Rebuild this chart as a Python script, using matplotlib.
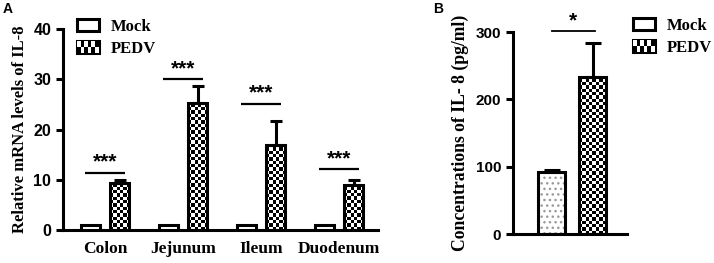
import numpy as np
import matplotlib
matplotlib.use("Agg")
import matplotlib.pyplot as plt
from matplotlib.patches import Rectangle
from matplotlib.legend_handler import HandlerBase

# ---------------- data ----------------
tissues = ["Colon", "Jejunum", "Ileum", "Duodenum"]
mock_a = [1.0, 1.0, 1.0, 1.0]
pedv_a = [9.3, 25.3, 16.9, 9.0]
pedv_a_err = [0.6, 3.4, 4.8, 0.9]
sig_a = ["***", "***", "***", "***"]
sig_a_y = [11.4, 30.0, 25.1, 12.1]
yticks_a = [0, 10, 20, 30, 40]

groups_b = ["Mock", "PEDV"]
vals_b = [92, 233]
err_b = [3, 50]
sig_b = "*"
sig_b_y = 301
yticks_b = [0, 100, 200, 300]

serif = "Liberation Serif"
sans = "Liberation Sans"
LW = 2.2
CHECK = 3.3  # checker square size in px

fig = plt.figure(figsize=(7.14, 2.63), dpi=100)
W, H = 714, 263


def px_axes(l, t, r, b):
    return fig.add_axes([l / W, 1 - b / H, (r - l) / W, (b - t) / H])


axA = px_axes(63, 29, 378, 230)
axB = px_axes(513, 32, 627, 234)


def style_axes(ax, yt, fs):
    for s in ["top", "right"]:
        ax.spines[s].set_visible(False)
    for s in ["left", "bottom"]:
        ax.spines[s].set_linewidth(LW)
    ax.set_yticks(yt)
    ax.tick_params(axis="y", direction="out", length=5, width=LW)
    ax.tick_params(axis="x", length=0)
    for lab in ax.get_yticklabels():
        lab.set_fontfamily(sans)
        lab.set_fontweight("bold")
        lab.set_fontsize(fs)


def checker_fill(ax, bar):
    x0, y0 = bar.get_x(), bar.get_y()
    w, h = bar.get_width(), bar.get_height()
    p0 = ax.transData.transform((x0, y0))
    p1 = ax.transData.transform((x0 + w, y0 + h))
    wpx, hpx = p1[0] - p0[0], p1[1] - p0[1]
    nx = max(1, int(round(wpx / CHECK)))
    ny = int(np.ceil(hpx / CHECK)) + 1
    unit_y = h / hpx * CHECK
    img = np.indices((ny, nx)).sum(0) % 2
    im = ax.imshow(img, cmap="gray", vmin=0, vmax=1, origin="lower",
                   extent=(x0, x0 + w, y0, y0 + ny * unit_y),
                   aspect="auto", interpolation="nearest", zorder=2)
    im.set_clip_path(bar)
    bar.set_facecolor("none")
    bar.set_zorder(3)


# ---------------- Panel A ----------------
x = np.arange(len(tissues))
off, bw = 0.19, 0.245
axA.set_xlim(-0.54, 3.5)
axA.set_ylim(0, 40)
barsM = axA.bar(x - off, mock_a, bw, color="white", edgecolor="black",
                linewidth=LW, zorder=3)
barsP = axA.bar(x + off, pedv_a, bw, color="white", edgecolor="black",
                linewidth=LW, zorder=3)
axA.errorbar(x + off, pedv_a, yerr=[np.zeros(4), pedv_a_err], fmt="none",
             ecolor="black", elinewidth=LW, capsize=4.5, capthick=LW, zorder=4)
for b in barsP:
    checker_fill(axA, b)
for i in range(len(tissues)):
    axA.plot([x[i] - off - 0.07, x[i] + off + 0.07], [sig_a_y[i]] * 2,
             color="black", lw=1.6, solid_capstyle="butt")
    axA.text(x[i], sig_a_y[i] + 0.2, sig_a[i], ha="center", va="bottom",
             fontfamily=sans, fontsize=15, fontweight="bold")
axA.set_xticks(x)
axA.set_xticklabels(tissues, fontfamily=serif, fontweight="bold", fontsize=12.5)
axA.tick_params(axis="x", pad=8)
style_axes(axA, yticks_a, 11.5)
axA.set_ylabel("Relative mRNA levels of IL-8", fontfamily=serif,
               fontweight="bold", fontsize=12, labelpad=4)

# ---------------- Panel B ----------------
xb = np.arange(len(groups_b))
axB.set_xlim(-0.94, 1.84)
axB.set_ylim(0, 300)
bB = axB.bar(xb, vals_b, 0.64, color="white", edgecolor="black",
             linewidth=LW, zorder=3)
# dotted fill for Mock
axB.bar(xb[0], vals_b[0], 0.64, color="white", edgecolor="#9a9a9a",
        hatch="...", linewidth=0, zorder=2)
bB[0].set_facecolor("none")
checker_fill(axB, bB[1])
axB.errorbar(xb, vals_b, yerr=[np.zeros(2), err_b], fmt="none",
             ecolor="black", elinewidth=LW, capsize=5.5, capthick=LW, zorder=4)
axB.plot([xb[0] + 0.02, xb[1] + 0.05], [sig_b_y] * 2, color="black", lw=1.3,
         clip_on=False)
axB.text((xb[0] + xb[1]) / 2 + 0.03, sig_b_y + 1, sig_b, ha="center",
         va="bottom", fontfamily=sans, fontsize=15, fontweight="bold")
axB.set_xticks([])
style_axes(axB, yticks_b, 11)
axB.set_ylabel("Concentrations of IL- 8 (pg/ml)", fontfamily=serif,
               fontweight="bold", fontsize=12.7, labelpad=5)


# ---------------- legends ----------------
class HandlerChecker(HandlerBase):
    def create_artists(self, legend, orig_handle, xdescent, ydescent,
                       width, height, fontsize, trans):
        arts = [Rectangle((-xdescent, -ydescent), width, height,
                          facecolor="black", edgecolor="black", lw=LW,
                          transform=trans)]
        nx, ny = 6, 2
        cw, ch = width / nx, height / ny
        for i in range(nx):
            for j in range(ny):
                if (i + j) % 2 == 1:
                    arts.append(Rectangle((-xdescent + i * cw, -ydescent + j * ch),
                                          cw, ch, facecolor="white", lw=0,
                                          transform=trans))
        return arts


class HandlerPlain(HandlerBase):
    def create_artists(self, legend, orig_handle, xdescent, ydescent,
                       width, height, fontsize, trans):
        return [Rectangle((-xdescent, -ydescent), width, height,
                          facecolor="white", edgecolor="black", lw=LW,
                          transform=trans)]


hM, hP = Rectangle((0, 0), 1, 1), Rectangle((0, 0), 1, 1)
for (lx, ly) in [(77, 19), (633, 18)]:
    fig.legend([hM, hP], ["Mock", "PEDV"],
               handler_map={hM: HandlerPlain(), hP: HandlerChecker()},
               loc="upper left", bbox_to_anchor=(lx / W, 1 - ly / H),
               bbox_transform=fig.transFigure, frameon=False,
               prop={"family": serif, "weight": "bold", "size": 12},
               handlelength=1.3, handleheight=0.7, handletextpad=0.75,
               labelspacing=0.35, borderpad=0, borderaxespad=0)

fig.text(3 / W, 1 - 2 / H, "A", ha="left", va="top", fontfamily=sans,
         fontweight="bold", fontsize=10)
fig.text(433 / W, 1 - 2 / H, "B", ha="left", va="top", fontfamily=sans,
         fontweight="bold", fontsize=10)

fig.savefig("out.png", dpi=100)
